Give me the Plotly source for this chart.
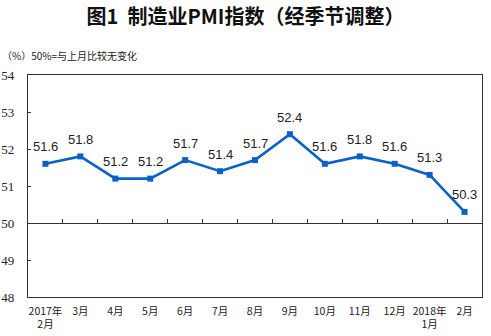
import plotly.graph_objects as go

# Manufacturing PMI, seasonally adjusted, Feb 2017 - Feb 2018
months = ["2017年<br>2月", "3月", "4月", "5月", "6月", "7月", "8月",
          "9月", "10月", "11月", "12月", "2018年<br>1月", "2月"]
pmi = [51.6, 51.8, 51.2, 51.2, 51.7, 51.4, 51.7, 52.4, 51.6, 51.8, 51.6, 51.3, 50.3]

y_ticks = [48, 49, 50, 51, 52, 53, 54]
baseline = 50

xs = list(range(len(months)))
blue = "#0a62c9"
ink = "#222222"

fig = go.Figure()
fig.add_trace(go.Scatter(
    x=xs, y=pmi, mode="lines+markers",
    line=dict(color=blue, width=2.6),
    marker=dict(symbol="square", size=6, color=blue),
    hoverinfo="skip", showlegend=False,
))
# invisible trace so the baseline axis is drawn
fig.add_trace(go.Scatter(x=[xs[0]], y=[baseline], xaxis="x2", mode="markers",
                         marker=dict(opacity=0), showlegend=False, hoverinfo="skip"))

for x, v in zip(xs, pmi):
    fig.add_annotation(x=x, y=v, text=f"{v:.1f}", showarrow=False, yshift=17,
                       font=dict(family="Liberation Sans, Arial", size=13, color=ink))

fig.update_layout(
    width=491, height=336,
    margin=dict(l=28, r=9, t=75, b=39, autoexpand=False),
    paper_bgcolor="white", plot_bgcolor="white",
    title=dict(text="<b>图1  制造业PMI指数（经季节调整）</b>",
               x=0.5, xanchor="center", y=0.95, yanchor="middle",
               font=dict(family="Noto Sans CJK SC", size=20, color="#111")),
    xaxis=dict(
        range=[-0.5, len(months) - 0.5], tickvals=xs, ticktext=months,
        showgrid=False, zeroline=False, showline=True, mirror=True,
        linecolor="#333", linewidth=1.2, ticks="", automargin=False,
        ticklabelstandoff=4,
        tickfont=dict(family="Noto Sans CJK SC", size=10.5, color=ink),
    ),
    xaxis2=dict(
        overlaying="x", anchor="free", position=(baseline - y_ticks[0]) / (y_ticks[-1] - y_ticks[0]),
        range=[-0.5, len(months) - 0.5],
        tickvals=[i + 0.5 for i in xs[:-1]], showticklabels=False,
        ticks="inside", ticklen=4, tickcolor="#333", tickwidth=1,
        showline=True, linecolor="#333", linewidth=1.2,
        showgrid=False, zeroline=False, automargin=False,
    ),
    yaxis=dict(
        range=[y_ticks[0], y_ticks[-1]], tickvals=y_ticks,
        showgrid=False, zeroline=False, showline=True, mirror=True,
        linecolor="#333", linewidth=1.2, automargin=False,
        ticks="inside", ticklen=3, tickcolor="#333",
        ticklabelstandoff=10,
        tickfont=dict(family="Liberation Serif, Times New Roman", size=13, color=ink),
    ),
)

fig.add_annotation(text="（%）50%=与上月比较无变化", xref="paper", yref="paper",
                   x=-28 / 454, y=1.0, yshift=20, xanchor="left", yanchor="middle",
                   showarrow=False,
                   font=dict(family="Noto Sans CJK SC", size=10, color=ink))

fig.write_html("out.html")
